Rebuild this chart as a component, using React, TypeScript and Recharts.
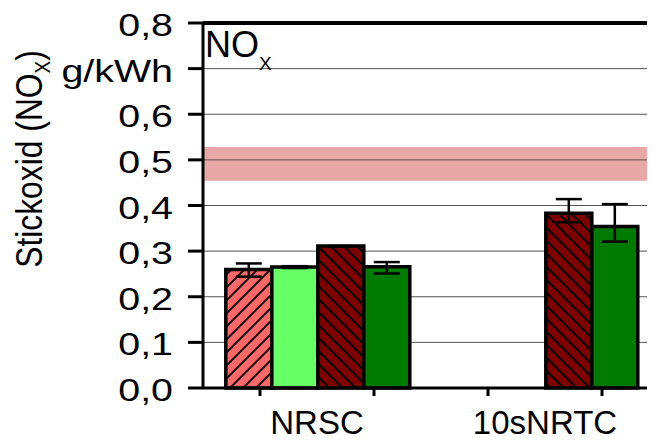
import React from "react";
import {
  BarChart,
  Bar,
  XAxis,
  YAxis,
  CartesianGrid,
  ReferenceArea,
  ReferenceLine,
  ErrorBar,
} from "recharts";

// categories and series
const categories = ["NRSC", "10sNRTC"];
const lightRed = [0.26, null];
const lightRedErr = [[0.016, 0.013], null];
const lightGreen = [0.265, null];
const lightGreenErr = [[0.002, 0.002], null];
const darkRed = [0.311, 0.383];
const darkRedErr = [[0, 0], [0.02, 0.031]];
const darkGreen = [0.266, 0.354];
const darkGreenErr = [[0.015, 0.01], [0.033, 0.049]];

const yTicks = [0, 0.1, 0.2, 0.3, 0.4, 0.5, 0.6, 0.7, 0.8];
const unitTick = 0.7;
const unitLabel = "g/kWh";
const limitValue = 0.5;
const limitLow = 0.454;
const limitHigh = 0.528;

const data = categories.map((name, i) => ({
  name,
  lightRed: lightRed[i],
  lightRedErr: lightRedErr[i],
  lightGreen: lightGreen[i],
  lightGreenErr: lightGreenErr[i],
  darkRed: darkRed[i],
  darkRedErr: darkRedErr[i],
  darkGreen: darkGreen[i],
  darkGreenErr: darkGreenErr[i],
}));

const FONT = "'Liberation Sans', Arial, sans-serif";
const CHART_W = 670;
const CHART_H = 441;
const Y_AXIS_W = 203;
const RIGHT = 11;
const bandWidth = (CHART_W - Y_AXIS_W - RIGHT) / categories.length;

const YTick = (props: any) => {
  const { x, y, payload } = props;
  const v = payload.value;
  const label = Math.abs(v - unitTick) < 1e-9 ? unitLabel : v.toFixed(1).replace(".", ",");
  return (
    <text
      transform={`translate(${x},${y + 13}) scale(1.27,1)`}
      textAnchor="end"
      fontSize={31}
      fontFamily={FONT}
      fill="#000"
    >
      {label}
    </text>
  );
};

const XTick = (props: any) => {
  const { x, y, payload } = props;
  const axisY = y - 22;
  const q = bandWidth / 4;
  return (
    <g>
      <line x1={x - q} x2={x - q} y1={axisY} y2={axisY + 8} stroke="#000" strokeWidth={3} />
      <line x1={x + q} x2={x + q} y1={axisY} y2={axisY + 8} stroke="#000" strokeWidth={3} />
      <text x={x} y={y + 24} textAnchor="middle" fontSize={33} fontFamily={FONT} fill="#000">
        {payload.value}
      </text>
    </g>
  );
};

const YLabel = () => (
  <text
    transform="translate(42,159) rotate(-90) scale(0.86,1)"
    textAnchor="middle"
    fontSize={37}
    fontFamily={FONT}
    fill="#000"
  >
    Stickoxid (NO
    <tspan fontSize={22} dy={8}>X</tspan>
    <tspan dy={-8}>)</tspan>
  </text>
);

const TopLabel = (props: any) => {
  const { viewBox } = props;
  return (
    <text x={viewBox.x + 2} y={viewBox.y + 34} fontSize={36} fontFamily={FONT} fill="#000">
      NO
      <tspan fontSize={19} dy={13}>X</tspan>
    </text>
  );
};

export default function App() {
  return (
    <div style={{ margin: "-8px 0 0 -8px", width: 655, height: 441, overflow: "hidden", background: "#fff" }}>
      <BarChart
        width={CHART_W}
        height={CHART_H}
        data={data}
        margin={{ top: 23, right: RIGHT, left: 0, bottom: 0 }}
        barCategoryGap="10%"
        barGap={0}
      >
        <defs>
          <pattern id="hatchLight" patternUnits="userSpaceOnUse" width="9.2" height="9.2" patternTransform="rotate(45)">
            <rect width="9.2" height="9.2" fill="#ff6868" />
            <line x1="4.6" y1="0" x2="4.6" y2="9.2" stroke="#000" strokeWidth="2" />
          </pattern>
          <pattern id="hatchDark" patternUnits="userSpaceOnUse" width="9.2" height="9.2" patternTransform="rotate(-45)">
            <rect width="9.2" height="9.2" fill="#800000" />
            <line x1="4.6" y1="0" x2="4.6" y2="9.2" stroke="#000" strokeWidth="2" />
          </pattern>
        </defs>
        <CartesianGrid vertical={false} stroke="#555" strokeWidth={1} />
        <ReferenceArea y1={limitLow} y2={limitHigh} fill="#e8a8a8" fillOpacity={1} stroke="none" />
        <ReferenceLine y={limitValue} stroke="#000" strokeOpacity={0.55} strokeWidth={1} />
        <XAxis
          dataKey="name"
          height={53}
          axisLine={{ stroke: "#000", strokeWidth: 3 }}
          tickLine={false}
          tickSize={8}
          tickMargin={14}
          tick={<XTick />}
          interval={0}
        />
        <YAxis
          width={Y_AXIS_W}
          domain={[0, 0.8]}
          ticks={yTicks}
          interval={0}
          axisLine={{ stroke: "#000", strokeWidth: 3 }}
          tickLine={{ stroke: "#000", strokeWidth: 3 }}
          tickSize={15}
          tickMargin={15}
          tick={<YTick />}
          label={<YLabel />}
        />
        <Bar dataKey="lightRed" fill="url(#hatchLight)" stroke="#000" strokeWidth={3.5} isAnimationActive={false}>
          <ErrorBar dataKey="lightRedErr" width={13} stroke="#000" strokeWidth={2.5} direction="y" />
        </Bar>
        <Bar dataKey="lightGreen" fill="#66ff66" stroke="#000" strokeWidth={3.5} isAnimationActive={false}>
          <ErrorBar dataKey="lightGreenErr" width={13} stroke="#000" strokeWidth={2.5} direction="y" />
        </Bar>
        <Bar dataKey="darkRed" fill="url(#hatchDark)" stroke="#000" strokeWidth={3.5} isAnimationActive={false}>
          <ErrorBar dataKey="darkRedErr" width={13} stroke="#000" strokeWidth={2.5} direction="y" />
        </Bar>
        <Bar dataKey="darkGreen" fill="#007a00" stroke="#000" strokeWidth={3.5} isAnimationActive={false}>
          <ErrorBar dataKey="darkGreenErr" width={13} stroke="#000" strokeWidth={2.5} direction="y" />
        </Bar>
        <ReferenceLine y={0.8} stroke="#000" strokeWidth={4} label={<TopLabel />} />
      </BarChart>
    </div>
  );
}
